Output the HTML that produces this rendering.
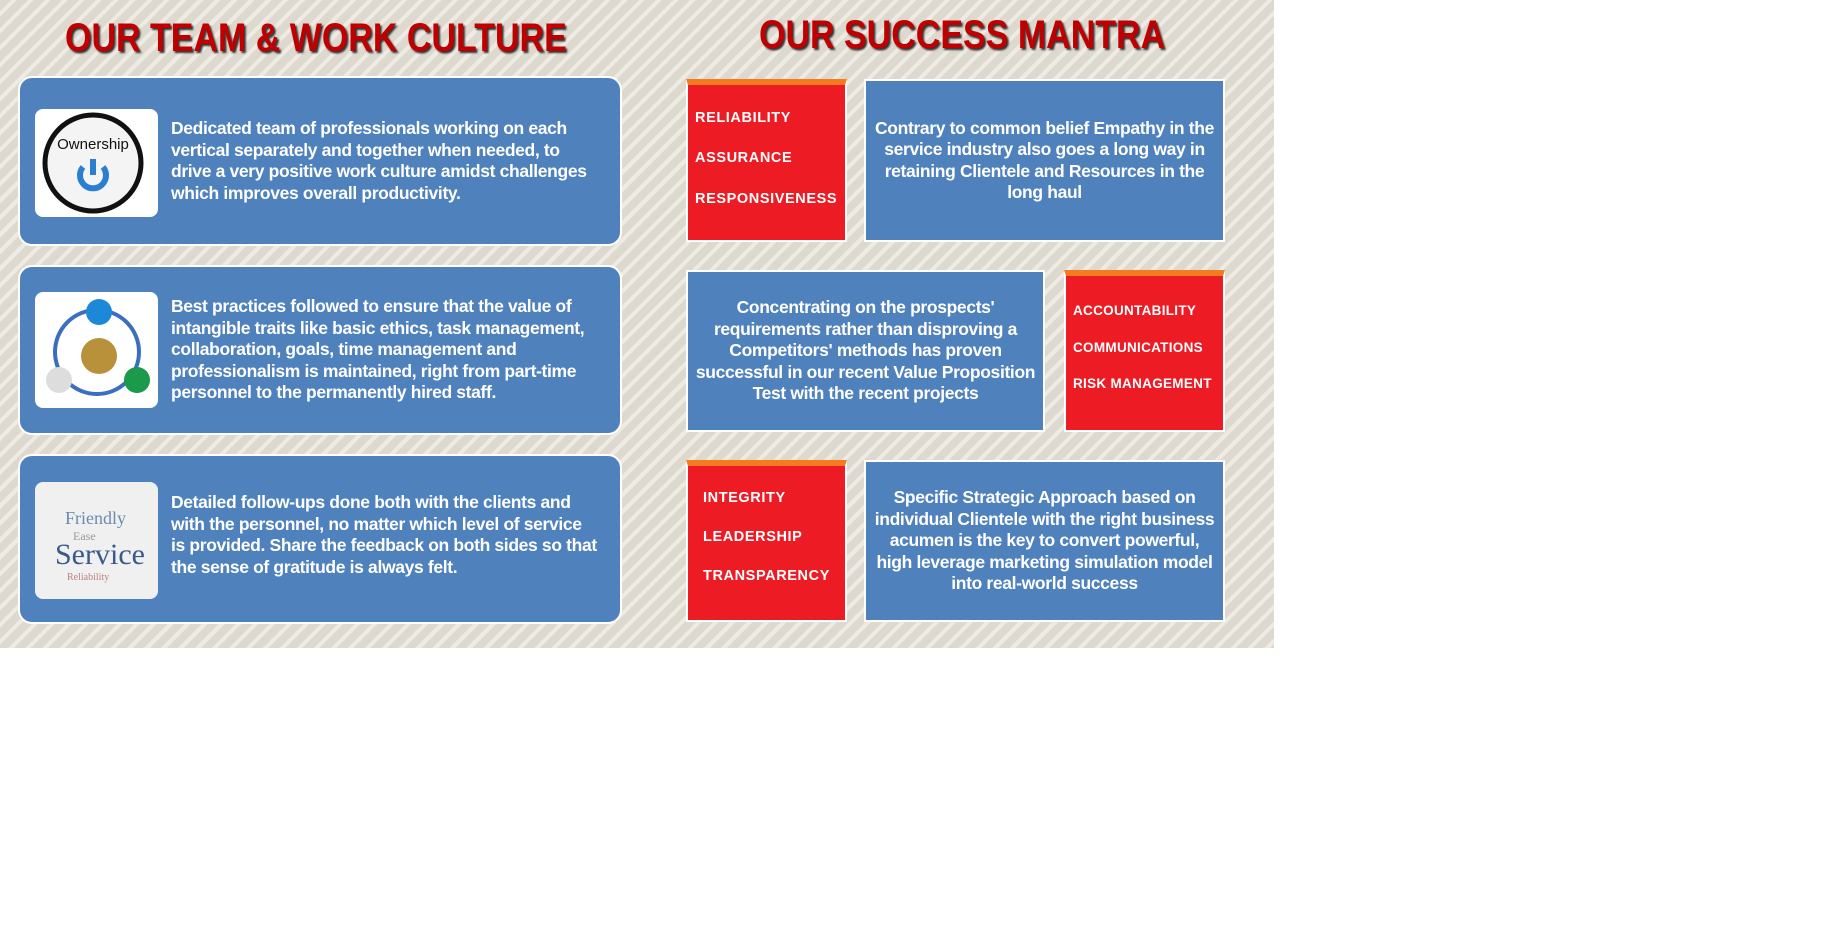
<!DOCTYPE html>
<html><head><meta charset="utf-8"><style>
html,body{margin:0;padding:0;background:#fff;width:1830px;height:931px;overflow:hidden;font-family:"Liberation Sans",sans-serif}
#bg{position:absolute;left:0;top:0;width:1274px;height:648px;background:repeating-linear-gradient(135deg,#ddd9cf 0 8px,#eeebe5 8px 12px);}
.title{position:absolute;font-weight:bold;font-size:40px;color:#c00000;text-shadow:2px 2px 2px #333;transform:scaleX(0.85);transform-origin:left top;white-space:nowrap}
.lbox{position:absolute;left:18px;width:600px;height:166px;background:#4f81bd;border:2px solid #fff;border-radius:14px}
.img{position:absolute;left:15px;width:123px;background:#fff;border-radius:8px;overflow:hidden}
.ltxt{position:absolute;left:151px;color:#fff;font-weight:bold;font-size:17.5px;line-height:21.5px;letter-spacing:-0.35px;white-space:nowrap}
.red{position:absolute;background:#ed1c24;border:2px solid #fff;box-sizing:border-box;border-top:6px solid #f47b20}
.red div{position:absolute;color:#fff;font-weight:bold;font-size:14.5px;letter-spacing:0.6px;white-space:nowrap}
.blue{position:absolute;background:#4f81bd;border:2px solid #fff;box-sizing:border-box;color:#fff;font-weight:bold;font-size:17.5px;line-height:21.5px;text-align:center;letter-spacing:-0.35px;white-space:nowrap;display:flex;align-items:center;justify-content:center}
</style></head><body>
<div id="bg"></div>
<div class="title" style="left:65px;top:16px">OUR TEAM &amp; WORK CULTURE</div>
<div class="title" style="left:759px;top:13px">OUR SUCCESS MANTRA</div>

<div class="lbox" style="top:76px">
 <div class="img" style="top:31px;height:108px">
  <svg width="123" height="108"><circle cx="58" cy="54" r="48" fill="#f4f4f4" stroke="#111" stroke-width="5"/><text x="58" y="40" font-size="15" text-anchor="middle" fill="#111" font-family="Liberation Sans">Ownership</text><path d="M48 58 a13 13 0 1 0 20 0" fill="none" stroke="#2a7fd0" stroke-width="6"/><line x1="58" y1="50" x2="58" y2="66" stroke="#2a7fd0" stroke-width="6"/></svg>
 </div>
 <div class="ltxt" style="top:40px">Dedicated team of professionals working on each<br>vertical separately and together when needed, to<br>drive a very positive work culture amidst challenges<br>which improves overall productivity.</div>
</div>
<div class="lbox" style="top:265px">
 <div class="img" style="top:25px;height:116px">
  <svg width="123" height="116"><circle cx="62" cy="60" r="42" fill="none" stroke="#3a6fc0" stroke-width="4"/><circle cx="64" cy="20" r="13" fill="#1e88d8"/><circle cx="64" cy="64" r="18" fill="#b8913a"/><circle cx="24" cy="88" r="13" fill="#ddd"/><circle cx="102" cy="88" r="13" fill="#1a9a4a"/></svg>
 </div>
 <div class="ltxt" style="top:29px">Best practices followed to ensure that the value of<br>intangible traits like basic ethics, task management,<br>collaboration, goals, time management and<br>professionalism is maintained, right from part-time<br>personnel to the permanently hired staff.</div>
</div>
<div class="lbox" style="top:454px">
 <div class="img" style="top:26px;height:117px;background:#f0f0f0">
  <svg width="123" height="117"><text x="30" y="42" font-size="18" fill="#6a8ab0" font-family="Liberation Serif">Friendly</text><text x="38" y="58" font-size="12" fill="#999" font-family="Liberation Serif">Ease</text><text x="20" y="82" font-size="30" fill="#3a5a8a" font-family="Liberation Serif">Service</text><text x="32" y="98" font-size="10" fill="#c08080" font-family="Liberation Serif">Reliability</text></svg>
 </div>
 <div class="ltxt" style="top:36px">Detailed follow-ups done both with the clients and<br>with the personnel, no matter which level of service<br>is provided. Share the feedback on both sides so that<br>the sense of gratitude is always felt.</div>
</div>

<div class="red" style="left:686px;top:79px;width:161px;height:163px">
 <div style="left:7px;top:25px">RELIABILITY</div><div style="left:7px;top:65px">ASSURANCE</div><div style="left:7px;top:106px">RESPONSIVENESS</div>
</div>
<div class="blue" style="left:864px;top:79px;width:361px;height:163px">Contrary to common belief Empathy in the<br>service industry also goes a long way in<br>retaining Clientele and Resources in the<br>long haul</div>
<div class="blue" style="left:686px;top:270px;width:359px;height:162px">Concentrating on the prospects'<br>requirements rather than disproving a<br>Competitors' methods has proven<br>successful in our recent Value Proposition<br>Test with the recent projects</div>
<div class="red" style="left:1064px;top:270px;width:161px;height:162px">
 <div style="left:7px;top:27px;font-size:13.5px;letter-spacing:0.3px">ACCOUNTABILITY</div><div style="left:7px;top:64px;font-size:13.5px;letter-spacing:0.3px">COMMUNICATIONS</div><div style="left:7px;top:100px;font-size:13.5px;letter-spacing:0.3px">RISK MANAGEMENT</div>
</div>
<div class="red" style="left:686px;top:460px;width:161px;height:162px">
 <div style="left:15px;top:24px">INTEGRITY</div><div style="left:15px;top:63px">LEADERSHIP</div><div style="left:15px;top:102px">TRANSPARENCY</div>
</div>
<div class="blue" style="left:864px;top:460px;width:361px;height:162px">Specific Strategic Approach based on<br>individual Clientele with the right business<br>acumen is the key to convert powerful,<br>high leverage marketing simulation model<br>into real-world success</div>
</body></html>
